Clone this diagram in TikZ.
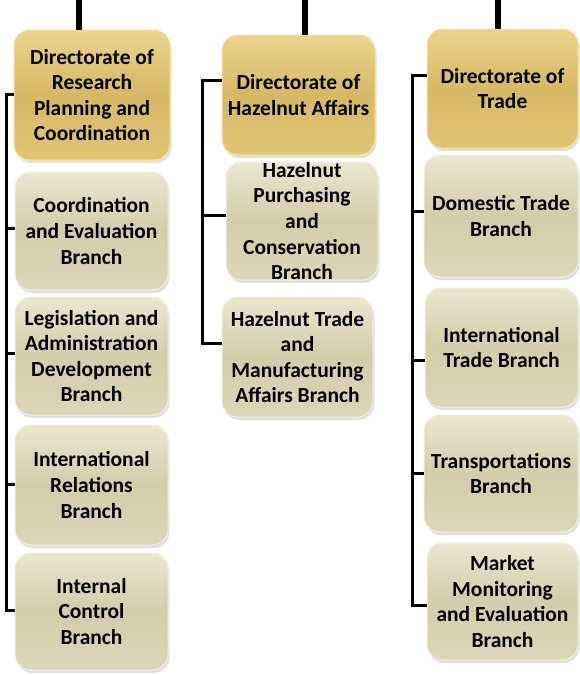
\documentclass[tikz,border=0pt]{standalone}
\usepackage{fontspec}
\setmainfont{Carlito}
\usetikzlibrary{shadows,calc}
\definecolor{goldtop}{HTML}{EBD48E}
\definecolor{goldmid}{HTML}{D6B965}
\definecolor{goldbot}{HTML}{E0C577}
\definecolor{goldrim}{HTML}{F3E2A8}
\definecolor{begtop}{HTML}{EAE7D0}
\definecolor{begmid}{HTML}{D2CDAA}
\definecolor{begbot}{HTML}{DBD7B9}
\definecolor{begrim}{HTML}{F1EFDD}
\tikzset{
  box/.style={rounded corners=16pt, align=center, inner sep=0pt,
    font=\fontsize{21.5}{25.6}\selectfont\bfseries, text=black,
    drop shadow={opacity=0.25, shadow xshift=1.5pt, shadow yshift=-3pt},
    line width=1pt},
  headbox/.style={box, draw=goldrim, top color=goldtop, bottom color=goldbot, middle color=goldmid},
  branchbox/.style={box, draw=begrim, top color=begtop, bottom color=begbot, middle color=begmid},
  wire/.style={line width=3pt, black},
  trunk/.style={line width=6pt, black},
}
\begin{document}
\begin{tikzpicture}[x=1pt,y=-1pt]
\useasboundingbox (0,0) rectangle (579,675);
% column 1
\node[headbox, minimum width=156pt, minimum height=130pt] (h1) at (92,95) {Directorate of\\Research\\Planning and\\Coordination};
\node[branchbox, minimum width=153pt, minimum height=118pt] (b11) at (91.5,231) {Coordination\\and Evaluation\\Branch};
\node[branchbox, minimum width=153pt, minimum height=118pt] (b12) at (91.5,356) {Legislation and\\Administration\\Development\\Branch};
\node[branchbox, minimum width=153pt, minimum height=120pt] (b13) at (91.5,485) {International\\Relations\\Branch};
\node[branchbox, minimum width=153pt, minimum height=117pt] (b14) at (91.5,611.5) {Internal\\Control\\Branch};
% column 2
\node[headbox, minimum width=153pt, minimum height=120pt] (h2) at (298.5,95) {Directorate of\\Hazelnut Affairs};
\node[branchbox, minimum width=152pt, minimum height=118pt] (b21) at (302,221) {Hazelnut\\Purchasing\\and\\Conservation\\Branch};
\node[branchbox, minimum width=151pt, minimum height=120pt] (b22) at (297.5,357) {Hazelnut Trade\\and\\Manufacturing\\Affairs Branch};
% column 3
\node[headbox, minimum width=151pt, minimum height=119pt] (h3) at (502.5,88.5) {Directorate of\\Trade};
\node[branchbox, minimum width=154pt, minimum height=122pt] (b31) at (501,216) {Domestic Trade\\Branch};
\node[branchbox, minimum width=153pt, minimum height=119pt] (b32) at (501.5,347.5) {International\\Trade Branch};
\node[branchbox, minimum width=154pt, minimum height=117pt] (b33) at (501,473.5) {Transportations\\Branch};
\node[branchbox, minimum width=151pt, minimum height=117pt] (b34) at (502.5,601.5) {Market\\Monitoring\\and Evaluation\\Branch};
% top trunks
\coordinate (top1) at (79,0);
\coordinate (top2) at (305,0);
\coordinate (top3) at (498,0);
\draw[trunk] (top1) -- (top1 |- h1.north);
\draw[trunk] (top2) -- (top2 |- h2.north);
\draw[trunk] (top3) -- (top3 |- h3.north);
% column 1 bracket
\coordinate (v1a) at (6,94);
\coordinate (v1b) at (6,228);
\coordinate (v1c) at (6,353);
\coordinate (v1d) at (6,484);
\coordinate (v1e) at (6,610);
\draw[wire] (h1.west |- v1a) -- (v1a) -- (v1e) -- (b14.west |- v1e);
\draw[wire] (v1b) -- (b11.west |- v1b);
\draw[wire] (v1c) -- (b12.west |- v1c);
\draw[wire] (v1d) -- (b13.west |- v1d);
% column 2 bracket
\coordinate (v2a) at (202,80);
\coordinate (v2b) at (202,215);
\coordinate (v2c) at (202,343);
\draw[wire] (h2.west |- v2a) -- (v2a) -- (v2c) -- (b22.west |- v2c);
\draw[wire] (v2b) -- (b21.west |- v2b);
% column 3 bracket
\coordinate (v3a) at (412,75);
\coordinate (v3b) at (412,211);
\coordinate (v3c) at (412,360);
\coordinate (v3d) at (412,473);
\coordinate (v3e) at (412,605);
\draw[wire] (h3.west |- v3a) -- (v3a) -- (v3e) -- (b34.west |- v3e);
\draw[wire] (v3b) -- (b31.west |- v3b);
\draw[wire] (v3c) -- (b32.west |- v3c);
\draw[wire] (v3d) -- (b33.west |- v3d);
\end{tikzpicture}
\end{document}
